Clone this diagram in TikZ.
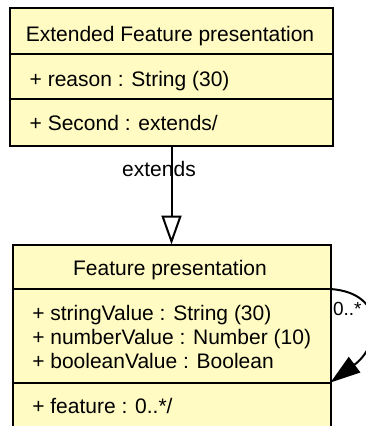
\documentclass[tikz,border=0pt]{standalone}
\usepackage{fontspec}
\setmainfont{Liberation Sans}
\usetikzlibrary{arrows.meta}
\definecolor{umlfill}{RGB}{255,251,194}
\begin{document}
\begin{tikzpicture}[x=1pt,y=-1pt,
  compart/.style={draw=black, line width=2pt, fill=umlfill, rectangle, inner sep=0pt, outer sep=0pt},
  txt/.style={inner sep=0pt, outer sep=0pt, font=\fontsize{21pt}{24pt}\selectfont},
  mult/.style={inner sep=0pt, outer sep=0pt, font=\fontsize{19pt}{22pt}\selectfont},
  conn/.style={draw=black, line width=2pt}]
\useasboundingbox (0,0) rectangle (366,426);
\clip (0,0) rectangle (366,426);
% Extended Feature presentation
\node[compart, minimum width=323pt, minimum height=46pt] (e1) at (171.5,31) {};
\node[compart, minimum width=323pt, minimum height=45pt] (e2) at (171.5,76.5) {};
\node[compart, minimum width=323pt, minimum height=47pt] (e3) at (171.5,122.5) {};
\node[txt, anchor=base] (e1t) at (170,41.7) {Extended Feature presentation};
\node[txt, anchor=base west] (e2t) at (29.7,86) {+ reason : String (30)};
\node[txt, anchor=base west] (e3t) at (29.7,130.7) {+ Second : extends/};
% Feature presentation
\node[compart, minimum width=317.5pt, minimum height=44.5pt] (f1) at (171.75,266.75) {};
\node[compart, minimum width=317.5pt, minimum height=93.5pt] (f2) at (171.75,335.75) {};
\node[compart, minimum width=317.5pt, minimum height=57.5pt] (f3) at (171.75,411.25) {};
\node[txt, anchor=base] (f1t) at (170,275) {Feature presentation};
\node[txt, anchor=base west] (f2a) at (32.3,320.7) {+ stringValue : String (30)};
\node[txt, anchor=base west] (f2b) at (32.3,344.5) {+ numberValue : Number (10)};
\node[txt, anchor=base west] (f2c) at (32.3,368.3) {+ booleanValue : Boolean};
\node[txt, anchor=base west] (f3t) at (32.3,413) {+ feature : 0..*/};
% generalization
\node[txt, anchor=base] (extl) at (159,176) {extends};
\draw[conn, -{Triangle[open, length=29pt, width=20pt, fill=white]}] (e3.south) -- (e3.south |- f1.north);
% self association
\draw[conn, -{Triangle[length=30pt, width=19pt]}] (f2.north east) .. controls (387,293) and (381,345) .. (f2.south east);
\node[mult, anchor=base west] (m) at (333,315) {0..*};
\end{tikzpicture}
\end{document}
